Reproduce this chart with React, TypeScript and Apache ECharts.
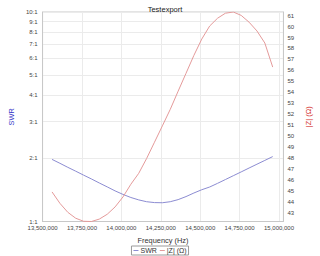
import React, { useEffect, useRef } from "react";
import * as echarts from "echarts";

const FONT = '"Liberation Sans", Arial, sans-serif';

const frequencies = [
  13560000, 13610000, 13660000, 13710000, 13760000, 13810000, 13860000, 13910000,
  13960000, 14010000, 14060000, 14110000, 14160000, 14210000, 14260000, 14310000,
  14360000, 14410000, 14460000, 14510000, 14560000, 14610000, 14660000, 14710000,
  14760000, 14810000, 14860000, 14910000, 14960000,
];

const swrValues = [
  1.979, 1.896, 1.814, 1.739, 1.665, 1.596, 1.527, 1.463,
  1.4, 1.347, 1.302, 1.268, 1.243, 1.231, 1.229, 1.243,
  1.272, 1.315, 1.368, 1.418, 1.461, 1.521, 1.586, 1.654,
  1.725, 1.8, 1.877, 1.957, 2.041,
];

const impedanceValues = [
  44.9, 43.86, 43.04, 42.5, 42.22, 42.2, 42.42, 42.86,
  43.53, 44.44, 45.6, 46.6, 47.95, 49.44, 50.93, 52.44,
  54.1, 55.73, 57.37, 58.86, 60.05, 60.76, 61.22, 61.33,
  61.02, 60.4, 59.6, 58.5, 56.3,
];

const swrTicks = [1, 2, 3, 4, 5, 6, 7, 8, 9, 10];
const impedanceMin = 42.2;
const impedanceMax = 61.33;
const freqMin = 13500000;
const freqMax = 15028000;
const freqInterval = 250000;

export default function App() {
  const ref = useRef<HTMLDivElement>(null);
  useEffect(() => {
    if (!ref.current) return;
    const chart = echarts.init(ref.current, null, { renderer: "svg" });
    const labelStyle = { fontFamily: FONT, fontSize: 6, color: "#444" };
    chart.setOption({
      animation: false,
      backgroundColor: "#ffffff",
      textStyle: { fontFamily: FONT },
      title: {
        text: "Testexport",
        left: 160,
        textAlign: "center",
        top: 0,
        textStyle: { fontFamily: FONT, fontSize: 7.5, fontWeight: "normal", color: "#222" },
      },
      grid: {
        left: 29,
        right: 23,
        top: 12,
        bottom: 34.5,
        show: true,
        borderColor: "#c8c8c8",
        borderWidth: 1,
        backgroundColor: "#ffffff",
      },
      legend: {
        bottom: 1,
        left: "center",
        data: ["SWR", "|Z| (Ω)"],
        icon: "rect",
        itemWidth: 5,
        itemHeight: 1,
        itemGap: 3,
        padding: [1, 2],
        borderColor: "#9a9a9a",
        borderWidth: 1,
        textStyle: { fontFamily: FONT, fontSize: 7, color: "#333", padding: [0, 0, 0, -3] },
      },
      xAxis: {
        type: "value",
        min: freqMin,
        max: freqMax,
        interval: freqInterval,
        name: "Frequency (Hz)",
        nameLocation: "middle",
        nameGap: 15,
        nameTextStyle: { fontFamily: FONT, fontSize: 7.4, color: "#333" },
        axisLine: { show: true, lineStyle: { color: "#c8c8c8" } },
        axisTick: { show: false },
        axisLabel: {
          ...labelStyle,
          margin: 3,
          showMaxLabel: false,
          formatter: (v: number) => v.toLocaleString("en-US"),
        },
        splitLine: { show: true, lineStyle: { color: "#ebebeb", width: 1 } },
      },
      yAxis: [
        {
          type: "log",
          logBase: 10,
          min: 1,
          max: 10,
          position: "left",
          name: "SWR",
          nameLocation: "middle",
          nameGap: 19,
          nameTextStyle: { fontFamily: FONT, fontSize: 7.4, color: "#3535c8" },
          axisLine: { show: true, lineStyle: { color: "#c8c8c8" } },
          axisTick: { show: false, customValues: swrTicks },
          axisLabel: {
            ...labelStyle,
            margin: 5,
            customValues: swrTicks,
            formatter: (v: number) => `${Math.round(v)}:1`,
          },
          splitLine: { show: true, lineStyle: { color: "#ebebeb", width: 1 } },
        },
        {
          type: "value",
          min: impedanceMin,
          max: impedanceMax,
          splitNumber: 19,
          position: "right",
          name: "|Z| (Ω)",
          nameLocation: "middle",
          nameRotate: 90,
          nameGap: 14,
          nameTextStyle: { fontFamily: FONT, fontSize: 7.4, color: "#d43030" },
          axisLine: { show: true, lineStyle: { color: "#c8c8c8" } },
          axisTick: { show: false },
          axisLabel: {
            ...labelStyle,
            margin: 4,
            showMinLabel: false,
            showMaxLabel: false,
            formatter: (v: number) => (Math.abs(v - Math.round(v)) < 1e-6 ? String(Math.round(v)) : ""),
          },
          splitLine: { show: false },
        },
      ],
      series: [
        {
          name: "SWR",
          type: "line",
          yAxisIndex: 0,
          showSymbol: false,
          symbol: "none",
          data: frequencies.map((f, i) => [f, swrValues[i]]),
          lineStyle: { color: "#8c8cd2", width: 1 },
          itemStyle: { color: "#8c8cd2" },
        },
        {
          name: "|Z| (Ω)",
          type: "line",
          yAxisIndex: 1,
          showSymbol: false,
          symbol: "none",
          data: frequencies.map((f, i) => [f, impedanceValues[i]]),
          lineStyle: { color: "#e49a9a", width: 1 },
          itemStyle: { color: "#e49a9a" },
        },
      ],
    });
    return () => chart.dispose();
  }, []);
  return (
    <div
      ref={ref}
      style={{ position: "fixed", left: 0, top: 0, width: 320, height: 256 }}
    />
  );
}
